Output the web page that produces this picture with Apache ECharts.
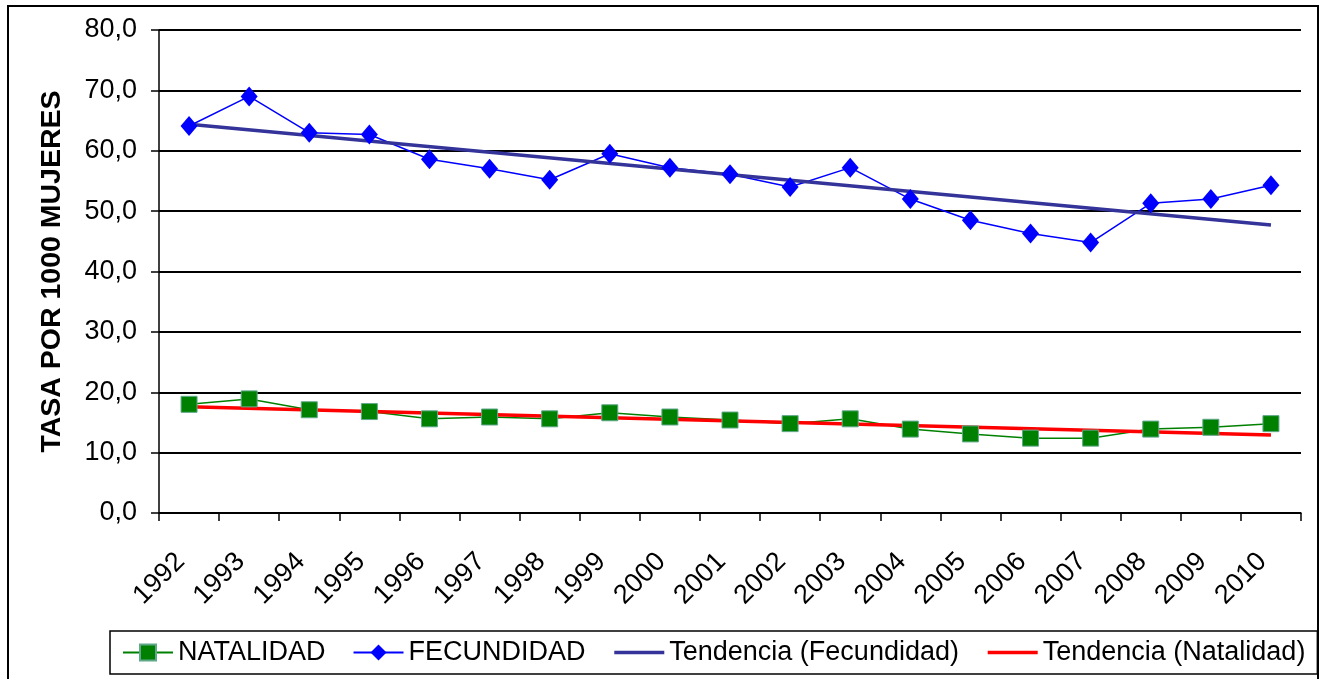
<!DOCTYPE html>
<html>
<head>
<meta charset="utf-8">
<script src="https://cdn.jsdelivr.net/npm/echarts@6/dist/echarts.min.js"></script>
<style>
  html, body { margin: 0; padding: 0; background: #fff; }
  #chart { width: 1321px; height: 679px; }
</style>
</head>
<body>
<div id="chart"></div>
<script>
var years = ['1992', '1993', '1994', '1995', '1996', '1997', '1998', '1999', '2000', '2001',
             '2002', '2003', '2004', '2005', '2006', '2007', '2008', '2009', '2010'];
// tasas por 1000 mujeres
var natalidad = [18.0, 18.9, 17.1, 16.8, 15.6, 15.9, 15.6, 16.6, 15.9, 15.4,
                 14.8, 15.6, 13.9, 13.1, 12.4, 12.4, 13.9, 14.2, 14.8];
var fecundidad = [64.1, 69.0, 63.0, 62.7, 58.6, 57.0, 55.2, 59.5, 57.2, 56.1,
                  54.0, 57.2, 52.0, 48.5, 46.3, 44.8, 51.3, 52.0, 54.3];
// extremos de las lineas de tendencia
var tendFecundidad = [['1992', 64.4], ['2010', 47.7]];
var tendNatalidad = [['1992', 17.6], ['2010', 12.9]];

var myChart = echarts.init(document.getElementById('chart'));

var option = {
    animation: false,
    backgroundColor: '#fff',
    textStyle: { fontFamily: 'Liberation Sans, Arial, sans-serif', color: '#000' },
    graphic: [{
        type: 'rect',
        shape: { x: 8, y: 6, width: 1310, height: 700 },
        style: { fill: 'none', stroke: '#000', lineWidth: 2 },
        silent: true
    }],
    grid: {
        left: 159,
        right: 20,
        top: 30,
        bottom: 166
    },
    legend: {
        left: 110,
        top: 631,
        padding: [8, 12, 8, 12],
        borderColor: '#000',
        borderWidth: 1.5,
        itemWidth: 50,
        itemHeight: 20,
        itemGap: 27,
        textStyle: { fontSize: 27, color: '#000', fontFamily: 'Liberation Sans, Arial, sans-serif' },
        data: [
            'NATALIDAD',
            'FECUNDIDAD',
            { name: 'Tendencia (Fecundidad)', itemStyle: { opacity: 0 }, lineStyle: { width: 3.5 } },
            { name: 'Tendencia (Natalidad)', itemStyle: { opacity: 0 }, lineStyle: { width: 3.5 } }
        ]
    },
    xAxis: {
        type: 'category',
        boundaryGap: true,
        data: years,
        axisLine: { lineStyle: { color: '#000', width: 1.5 } },
        axisTick: { show: true, length: 8, lineStyle: { color: '#000', width: 1.5 } },
        axisLabel: {
            rotate: 45,
            margin: 36,
            padding: [0, 12, 0, 0],
            fontSize: 27,
            color: '#000',
            interval: 0
        }
    },
    yAxis: {
        type: 'value',
        min: 0,
        max: 80,
        interval: 10,
        name: 'TASA POR 1000 MUJERES',
        nameLocation: 'middle',
        nameGap: 92,
        nameTextStyle: { fontSize: 28.5, fontWeight: 'bold', color: '#000' },
        axisLine: { show: true, lineStyle: { color: '#000', width: 1.5 } },
        axisTick: { show: true, length: 8, lineStyle: { color: '#000', width: 1.5 } },
        axisLabel: {
            margin: 22,
            fontSize: 27,
            color: '#000',
            formatter: function (v) { return v.toFixed(1).replace('.', ','); }
        },
        splitLine: { show: true, lineStyle: { color: '#000', width: 1.8 } }
    },
    series: [
        {
            name: 'NATALIDAD',
            type: 'line',
            data: natalidad,
            symbol: 'rect',
            symbolSize: 16,
            lineStyle: { color: '#008000', width: 1.5 },
            itemStyle: { color: '#008000', borderColor: '#5fa88a', borderWidth: 1 }
        },
        {
            name: 'FECUNDIDAD',
            type: 'line',
            data: fecundidad,
            symbol: 'diamond',
            symbolSize: [17, 20],
            lineStyle: { color: '#0000ff', width: 1.5 },
            itemStyle: { color: '#0000ff' }
        },
        {
            name: 'Tendencia (Fecundidad)',
            type: 'line',
            data: tendFecundidad,
            symbol: 'none',
            lineStyle: { color: '#333399', width: 3.5 },
            itemStyle: { color: '#333399' }
        },
        {
            name: 'Tendencia (Natalidad)',
            type: 'line',
            data: tendNatalidad,
            symbol: 'none',
            lineStyle: { color: '#ff0000', width: 3.5 },
            itemStyle: { color: '#ff0000' }
        }
    ]
};

myChart.setOption(option);
window.onresize = function () {
    myChart.resize();
};
</script>
</body>
</html>
